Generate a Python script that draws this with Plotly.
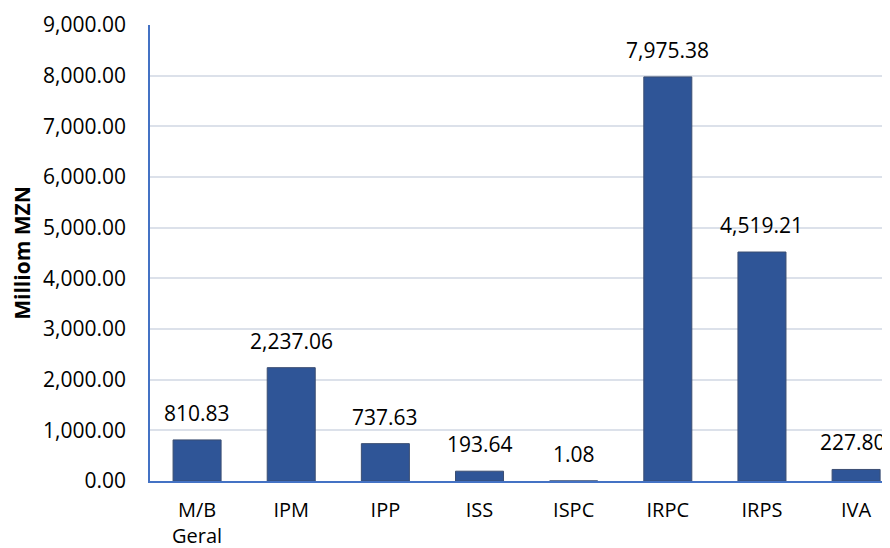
import plotly.graph_objects as go

categories = ["M/B<br>Geral", "IPM", "IPP", "ISS", "ISPC", "IRPC", "IRPS", "IVA"]
values = [810.83, 2237.06, 737.63, 193.64, 1.08, 7975.38, 4519.21, 227.80]
y_ticks = [0, 1000, 2000, 3000, 4000, 5000, 6000, 7000, 8000, 9000]
y_ticklabels = [f"{v:,.2f}" for v in y_ticks]
value_labels = [f"{v:,.2f}" for v in values]

FONT = "Open Sans"
fig = go.Figure()
fig.add_trace(go.Bar(
    x=categories, y=values,
    marker=dict(color="#2F5597", line=dict(color="#3B4E72", width=1)),
    width=0.51,
    hoverinfo="skip",
))
n = len(categories)
for i, (c, v, t) in enumerate(zip(categories, values, value_labels)):
    fig.add_annotation(x=c, y=v, text=t, showarrow=False, yanchor="bottom",
                       yshift=11, xshift=(-3 if i == n - 1 else 0),
                       font=dict(family=FONT, size=21, color="#000000"))

fig.update_layout(
    width=882, height=540,
    margin=dict(l=142, r=0, t=17, b=67, autoexpand=False),
    paper_bgcolor="white", plot_bgcolor="white",
    showlegend=False,
    font=dict(family=FONT, size=21, color="#000000"),
)
fig.update_xaxes(
    range=[-0.5, 7.36], showline=True, linecolor="#4472C4", linewidth=1.5,
    showgrid=False, ticks="", tickfont=dict(family=FONT, size=20),
    ticklabelstandoff=10, automargin=False,
)
fig.update_yaxes(
    range=[0, 9000], tickvals=y_ticks, ticktext=y_ticklabels,
    showline=True, linecolor="#4472C4", linewidth=1.5,
    showgrid=True, gridcolor="#DCE1EA", gridwidth=1.5,
    zeroline=False, ticks="", ticklabelstandoff=18,
    tickfont=dict(family=FONT, size=21), automargin=False,
    title=dict(text="<b>Milliom MZN</b>", font=dict(family=FONT, size=21), standoff=13),
)
fig.write_html("out.html")
